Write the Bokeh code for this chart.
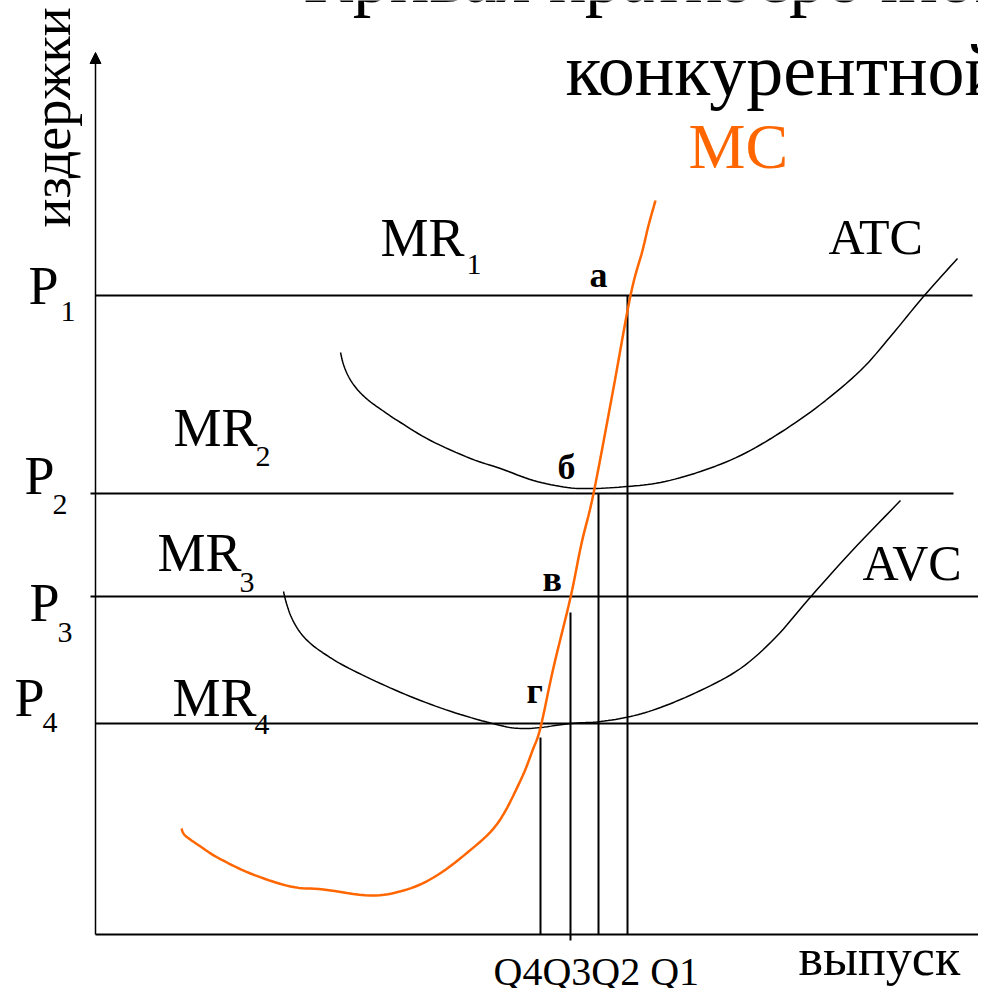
from bokeh.plotting import figure
from bokeh.models import Range1d, Arrow, NormalHead
from bokeh.core.properties import value
from bokeh.embed import file_html
from bokeh.resources import INLINE
import math

# ---- data (economic coordinates: quantity, cost) ----
price_names = ["1", "2", "3", "4"]
price_levels = [639, 441, 338, 211]          # P1..P4
price_line_start = [0, -5, -5, 0]
price_line_end = [877, 858, 899, 899]

q_names = ["Q4", "Q3", "Q2", "Q1"]
q_levels = [445, 475, 503, 532]
q_tops = [197, 322, 441, 639]
q_bottoms = [0, -6, 0, 0]

mc_q = [86, 88, 92, 105, 122, 155, 195, 228, 275, 308, 338, 372, 402, 425, 437,
        445, 458, 475, 486, 498, 517, 535, 547, 553, 560]
mc_c = [106, 101, 97, 88, 77, 61, 48, 45, 39, 44, 57, 82, 111, 154, 184,
        207, 267, 337, 391, 441, 541, 639, 684, 709, 734]

atc_q = [245, 248, 253, 261, 272, 287, 305, 335, 375, 405, 438, 472, 498, 532,
         565, 605, 645, 685, 725, 765, 795, 828, 862]
atc_c = [582, 570, 558, 546, 535, 524, 512, 494, 476, 466, 454, 447, 446, 448,
         452, 463, 479, 502, 530, 564, 598, 638, 676]

avc_q = [188, 191, 196, 204, 215, 230, 250, 285, 325, 365, 405, 425, 445, 475,
         505, 535, 565, 605, 645, 680, 712, 755, 805]
avc_c = [343, 331, 317, 303, 291, 280, 268, 251, 234, 220, 209, 206, 207, 211,
         213, 218, 227, 244, 266, 297, 334, 382, 434]

# label anchor positions (baseline-left) in the same coordinates
p_label_x = [-67, -71, -66, -81]
p_label_y = [629, 439, 312, 217]
p_sub_x = [-35, -43, -38, -53]
p_sub_y = [612, 419, 291, 201]

mr_label_x = [285, 78, 62, 77]
mr_label_y = [677, 487, 362, 217]
mr_sub_x = [371, 160, 144, 159]
mr_sub_y = [659, 467, 341, 199]

point_letters = ["а", "б", "в", "г"]
point_x = [494, 462, 447, 431]
point_y = [646, 454, 342, 230]

# ---- figure: frame maps screen px 0..978, 0..988 ----
X0, Y0 = 95, 934
W, H = 978, 988
p = figure(width=W, height=H, output_backend="svg", toolbar_location=None,
           x_range=Range1d(-X0, W - X0), y_range=Range1d(Y0 - H, Y0),
           min_border=0, min_border_left=0, min_border_right=0,
           min_border_top=0, min_border_bottom=0)
p.axis.visible = False
p.grid.visible = False
p.outline_line_color = None
p.background_fill_color = "white"
p.border_fill_color = "white"

serif = value("Liberation Serif")
K = 0.37  # baseline correction of rendered text, in em


def smooth(xs, ys, n=8):
    """Catmull-Rom path through the given points (drawing only)."""
    px = [xs[0]] + list(xs) + [xs[-1]]
    py = [ys[0]] + list(ys) + [ys[-1]]
    ox, oy = [], []
    for i in range(1, len(px) - 2):
        for k in range(n):
            t = k / n
            t2, t3 = t * t, t * t * t
            def cr(a, b, c, d):
                return 0.5 * (2 * b + (-a + c) * t + (2 * a - 5 * b + 4 * c - d) * t2
                              + (-a + 3 * b - 3 * c + d) * t3)
            ox.append(cr(px[i - 1], px[i], px[i + 1], px[i + 2]))
            oy.append(cr(py[i - 1], py[i], py[i + 1], py[i + 2]))
    ox.append(xs[-1])
    oy.append(ys[-1])
    return ox, oy


def label(xs, ys, texts, size, color="black", style="normal"):
    p.text(x=xs, y=[y + K * size for y in ys], text=texts, text_font=serif,
           text_font_size=f"{size}px", text_font_style=style,
           text_baseline="alphabetic", text_color=color)


# axes
p.segment(x0=[0], y0=[0], x1=[p.x_range.end], y1=[0], line_color="black", line_width=2)
p.add_layout(Arrow(end=NormalHead(size=11, fill_color="black", line_color="black"),
                   x_start=0, y_start=0, x_end=0, y_end=882,
                   line_color="black", line_width=1.5))

# price lines
p.segment(x0=price_line_start, y0=price_levels, x1=price_line_end, y1=price_levels,
          line_color="black", line_width=2)
# quantity lines
p.segment(x0=q_levels, y0=q_bottoms, x1=q_levels, y1=q_tops,
          line_color="black", line_width=2)

# cost curves
sx, sy = smooth(atc_q, atc_c)
p.line(sx, sy, line_color="black", line_width=1.5)
sx, sy = smooth(avc_q, avc_c)
p.line(sx, sy, line_color="black", line_width=1.5)
sx, sy = smooth(mc_q, mc_c)
p.line(sx, sy, line_color="#FF6600", line_width=2.5)

# P labels
label(p_label_x, p_label_y, ["P"] * 4, 54)
label(p_sub_x, p_sub_y, price_names, 30)
# MR labels
label(mr_label_x, mr_label_y, ["MR"] * 4, 54)
label(mr_sub_x, mr_sub_y, price_names, 30)

# point letters
label(point_x, point_y, point_letters, 36, style="bold")

# curve names
label([733], [679], ["ATC"], 50)
label([767], [353], ["AVC"], 50)
label([593], [764], ["MC"], 64, color="#FF6600")

# title (cut off by frame)
label([208], [930], ["Кривая краткосрочного предложения"], 74)
label([470], [837], ["конкурентной фирмы"], 74)

# axis titles
label([703], [-42], ["выпуск"], 52)
label([398], [-52], ["Q4Q3Q2 Q1"], 40)
p.text(x=[-44], y=[707], text=["издержки"], text_font=serif, text_font_size="54px",
       text_baseline="alphabetic", angle=math.pi / 2, text_color="black")

open("out.html", "w").write(file_html(p, INLINE))
